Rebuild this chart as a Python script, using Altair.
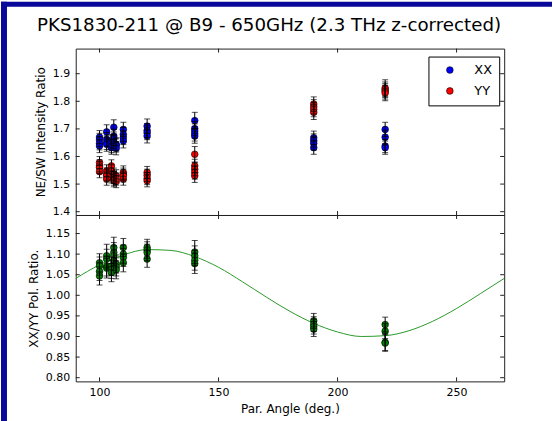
import altair as alt
import pandas as pd

# ---------------------------------------------------------------- data
TITLE = "PKS1830-211 @ B9 - 650GHz (2.3 THz z-corrected)"

# NE/SW intensity ratio, XX polarisation
xx_angle = [100, 100, 100, 100, 103, 103, 103, 103, 105, 105, 105,
            106, 106, 106, 106, 107, 107, 107, 110, 110, 110, 110,
            120, 120, 120, 120, 140, 140, 140, 140, 140,
            190, 190, 190, 190, 220, 220, 220, 220]
xx_ratio = [1.670, 1.660, 1.648, 1.638, 1.689, 1.662, 1.650, 1.644, 1.655, 1.638, 1.632,
            1.706, 1.674, 1.664, 1.652, 1.644, 1.640, 1.630, 1.698, 1.680, 1.668, 1.656,
            1.710, 1.694, 1.686, 1.674, 1.730, 1.701, 1.692, 1.682, 1.674,
            1.668, 1.658, 1.648, 1.632, 1.698, 1.670, 1.638, 1.632]
xx_err = [0.024, 0.024, 0.024, 0.024, 0.026, 0.025, 0.025, 0.025, 0.024, 0.024, 0.024,
          0.027, 0.025, 0.025, 0.025, 0.024, 0.024, 0.024, 0.026, 0.025, 0.025, 0.025,
          0.026, 0.025, 0.025, 0.025, 0.030, 0.026, 0.026, 0.026, 0.026,
          0.024, 0.024, 0.024, 0.024, 0.026, 0.025, 0.024, 0.024]

# NE/SW intensity ratio, YY polarisation
yy_angle = [100, 100, 100, 100, 103, 103, 103, 103, 105, 105, 105,
            106, 106, 106, 106, 107, 107, 107, 110, 110, 110, 110,
            120, 120, 120, 120, 140, 140, 140, 140, 140,
            190, 190, 190, 190, 220, 220, 220, 220]
yy_ratio = [1.578, 1.566, 1.560, 1.545, 1.548, 1.536, 1.530, 1.518, 1.566, 1.548, 1.526,
            1.536, 1.524, 1.518, 1.512, 1.530, 1.518, 1.509, 1.542, 1.536, 1.530, 1.518,
            1.542, 1.532, 1.520, 1.512, 1.608, 1.566, 1.554, 1.542, 1.530,
            1.790, 1.780, 1.770, 1.760, 1.848, 1.842, 1.836, 1.830]
yy_err = [0.022, 0.022, 0.022, 0.022, 0.022, 0.022, 0.022, 0.022, 0.022, 0.022, 0.022,
          0.022, 0.022, 0.022, 0.022, 0.022, 0.022, 0.022, 0.024, 0.022, 0.022, 0.022,
          0.022, 0.022, 0.022, 0.022, 0.028, 0.024, 0.024, 0.024, 0.024,
          0.026, 0.026, 0.026, 0.026, 0.030, 0.028, 0.028, 0.028]

# XX/YY polarisation ratio
pol_angle = [100, 100, 100, 100, 103, 103, 103, 103, 105, 105, 105,
             106, 106, 106, 106, 107, 107, 107, 110, 110, 110, 110,
             120, 120, 120, 120, 140, 140, 140, 140,
             190, 190, 190, 190, 220, 220, 220, 220]
pol_ratio = [1.079, 1.071, 1.058, 1.047, 1.096, 1.088, 1.071, 1.066, 1.071, 1.063, 1.055,
             1.116, 1.104, 1.096, 1.084, 1.076, 1.069, 1.062, 1.116, 1.100, 1.092, 1.079,
             1.116, 1.110, 1.104, 1.088, 1.105, 1.096, 1.085, 1.077,
             0.938, 0.930, 0.924, 0.918, 0.929, 0.913, 0.886, 0.884]
pol_err = [0.022, 0.022, 0.022, 0.022, 0.028, 0.024, 0.024, 0.024, 0.022, 0.022, 0.022,
           0.025, 0.024, 0.024, 0.024, 0.022, 0.022, 0.022, 0.022, 0.022, 0.022, 0.022,
           0.020, 0.020, 0.020, 0.020, 0.028, 0.024, 0.024, 0.024,
           0.018, 0.018, 0.018, 0.018, 0.018, 0.018, 0.020, 0.020]

# polarisation model curve
fit_angle = [90, 100, 110, 120, 130, 140, 150, 160, 170, 180,
             190, 200, 210, 220, 230, 240, 250, 260, 270]
fit_ratio = [1.041, 1.074, 1.098, 1.111, 1.109, 1.094, 1.068, 1.033, 0.996, 0.961,
             0.932, 0.911, 0.900, 0.902, 0.914, 0.937, 0.968, 1.004, 1.041]

x_ticks = [100, 150, 200, 250]
top_ticks = [1.4, 1.5, 1.6, 1.7, 1.8, 1.9]
bot_ticks = [0.80, 0.85, 0.90, 0.95, 1.00, 1.05, 1.10, 1.15]

# ---------------------------------------------------------------- style
W, H = 430, 167          # size of each panel's plot area
FRAME = "#222222"
BORDER = "#08089a"
FONT = "DejaVu Sans"
TICK = 4

top_df = pd.concat([
    pd.DataFrame({"angle": xx_angle, "ratio": xx_ratio, "err": xx_err, "pol": "XX"}),
    pd.DataFrame({"angle": yy_angle, "ratio": yy_ratio, "err": yy_err, "pol": "YY"}),
], ignore_index=True)
top_df["lo"] = top_df["ratio"] - top_df["err"]
top_df["hi"] = top_df["ratio"] + top_df["err"]

bot_df = pd.DataFrame({"angle": pol_angle, "ratio": pol_ratio, "err": pol_err})
bot_df["lo"] = bot_df["ratio"] - bot_df["err"]
bot_df["hi"] = bot_df["ratio"] + bot_df["err"]

fit_df = pd.DataFrame({"angle": fit_angle, "ratio": fit_ratio})

xs = alt.Scale(domain=[90, 270], nice=False, zero=False)
ys_top = alt.Scale(domain=[1.388, 1.991], nice=False, zero=False)
ys_bot = alt.Scale(domain=[0.791, 1.195], nice=False, zero=False)

axis_common = dict(ticks=False, tickSize=0, domain=False, grid=False,
                   labelFontSize=11, labelColor="black",
                   titleFontSize=12, titleFontWeight="normal", titleColor="black",
                   labelFont=FONT, titleFont=FONT, labelOverlap=False)

y_top_axis = alt.Axis(values=top_ticks, format=".1f", titlePadding=5, labelPadding=6, **axis_common)
y_bot_axis = alt.Axis(values=bot_ticks, format=".2f", titlePadding=5, labelPadding=6, **axis_common)
x_bot_axis = alt.Axis(values=x_ticks, format="d", titlePadding=6, labelPadding=5, **axis_common)

TOP_TITLE = "NE/SW Intensity Ratio"
BOT_TITLE = "XX/YY Pol. Ratio."
X_TITLE = "Par. Angle (deg.)"


def one_row():
    return pd.DataFrame({"k": [0]})


def inner_ticks(xaxis, xtitle, yscale, yvals, ytitle, yaxis):
    """Inward-pointing ticks on all four sides of a panel."""
    xt = alt.Chart(pd.DataFrame({"t": x_ticks}))
    yt = alt.Chart(pd.DataFrame({"t": yvals}))
    xenc = alt.X("t:Q", scale=xs, axis=xaxis, title=xtitle)
    yenc = alt.Y("t:Q", scale=yscale, axis=yaxis, title=ytitle)
    rule = dict(color=FRAME, strokeWidth=1)
    return [
        xt.mark_rule(**rule).encode(x=xenc, y=alt.value(H), y2=alt.value(H - TICK)),
        xt.mark_rule(**rule).encode(x=xenc, y=alt.value(0), y2=alt.value(TICK)),
        yt.mark_rule(**rule).encode(y=yenc, x=alt.value(0), x2=alt.value(TICK)),
        yt.mark_rule(**rule).encode(y=yenc, x=alt.value(W), x2=alt.value(W - TICK)),
    ]


# ---------------------------------------------------------------- top panel
tb = alt.Chart(top_df).encode(x=alt.X("angle:Q", scale=xs, axis=None))
top_y = dict(scale=ys_top, axis=y_top_axis, title=TOP_TITLE)

top_points = tb.mark_circle(size=45, opacity=1, stroke="black", strokeWidth=0.6).encode(
    y=alt.Y("ratio:Q", **top_y),
    color=alt.Color(
        "pol:N",
        scale=alt.Scale(domain=["XX", "YY"], range=["#0000ff", "#ff0000"]),
        legend=alt.Legend(
            title=None, orient="none", legendX=354, legendY=8,
            padding=7, strokeColor="black", fillColor="white", cornerRadius=0,
            labelFontSize=13, labelFont=FONT, labelColor="black",
            symbolType="circle", symbolSize=45, symbolStrokeColor="black",
            symbolStrokeWidth=0.6, symbolOffset=8, labelOffset=18, rowPadding=7,
        ),
    ),
)
top_bars = tb.mark_rule(color="black", strokeWidth=1).encode(
    y=alt.Y("lo:Q", **top_y), y2="hi:Q")
top_cap_lo = tb.mark_tick(orient="horizontal", size=6, thickness=1, color="black").encode(
    y=alt.Y("lo:Q", **top_y))
top_cap_hi = tb.mark_tick(orient="horizontal", size=6, thickness=1, color="black").encode(
    y=alt.Y("hi:Q", **top_y))

title_text = alt.Chart(pd.DataFrame({"label": [TITLE]})).mark_text(
    font=FONT, fontSize=18.3, color="black", align="center", baseline="alphabetic"
).encode(text="label:N", x=alt.value(194), y=alt.value(-18))

border_left_top = alt.Chart(one_row()).mark_rect(color=BORDER).encode(
    x=alt.value(-75), x2=alt.value(-69), y=alt.value(-47), y2=alt.value(H))
border_top = alt.Chart(one_row()).mark_rect(color=BORDER).encode(
    x=alt.value(-75), x2=alt.value(478), y=alt.value(-47), y2=alt.value(-42))

top = alt.layer(
    border_left_top, border_top, title_text,
    top_points, top_bars, top_cap_lo, top_cap_hi,
    *inner_ticks(None, None, ys_top, top_ticks, TOP_TITLE, y_top_axis),
).properties(width=W, height=H, view=alt.ViewBackground(stroke=FRAME, strokeWidth=1))

# ---------------------------------------------------------------- bottom panel
x_bot = dict(scale=xs, axis=x_bot_axis, title=X_TITLE)
bb = alt.Chart(bot_df).encode(x=alt.X("angle:Q", **x_bot))
bot_y = dict(scale=ys_bot, axis=y_bot_axis, title=BOT_TITLE)

fit_line = alt.Chart(fit_df).mark_line(
    interpolate="monotone", color="#2a9a2a", strokeWidth=1
).encode(
    x=alt.X("angle:Q", **x_bot),
    y=alt.Y("ratio:Q", **bot_y),
)
bot_points = bb.mark_circle(size=45, opacity=1, color="#007f00", stroke="black",
                            strokeWidth=0.6).encode(y=alt.Y("ratio:Q", **bot_y))
bot_bars = bb.mark_rule(color="black", strokeWidth=1).encode(
    y=alt.Y("lo:Q", **bot_y), y2="hi:Q")
bot_cap_lo = bb.mark_tick(orient="horizontal", size=6, thickness=1, color="black").encode(
    y=alt.Y("lo:Q", **bot_y))
bot_cap_hi = bb.mark_tick(orient="horizontal", size=6, thickness=1, color="black").encode(
    y=alt.Y("hi:Q", **bot_y))

border_left_bot = alt.Chart(one_row()).mark_rect(color=BORDER).encode(
    x=alt.value(-75), x2=alt.value(-69), y=alt.value(0), y2=alt.value(207))

bottom = alt.layer(
    border_left_bot, fit_line,
    bot_points, bot_bars, bot_cap_lo, bot_cap_hi,
    *inner_ticks(x_bot_axis, X_TITLE, ys_bot, bot_ticks, BOT_TITLE, y_bot_axis),
).properties(width=W, height=H, view=alt.ViewBackground(stroke=FRAME, strokeWidth=1))

chart = alt.vconcat(
    top, bottom, spacing=0, bounds="flush", padding=0, background="white"
).configure_view(stroke=FRAME, strokeWidth=1)

chart.save("out.html", embed_options={"renderer": "svg", "actions": False})
